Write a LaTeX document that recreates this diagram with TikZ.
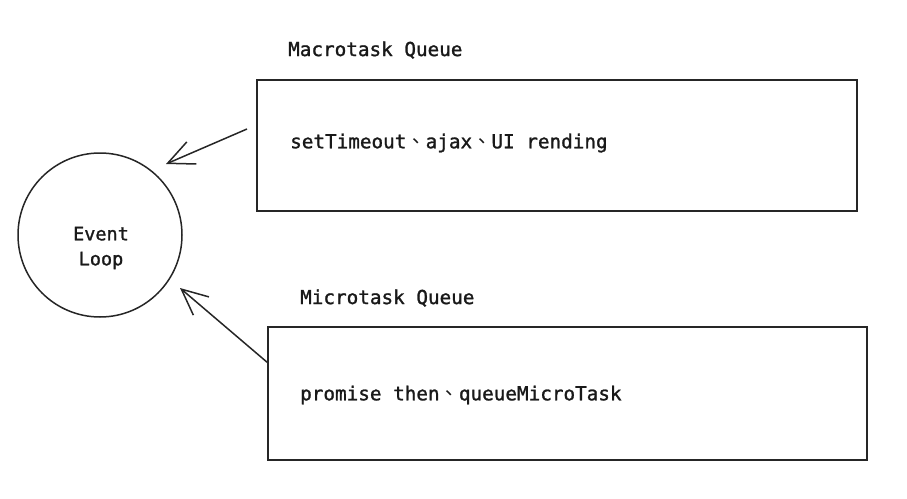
\documentclass[tikz,border=0pt]{standalone}
\usepackage{fontspec}
\newfontfamily\mono[FakeBold=1.3]{DejaVu Sans Mono}
\newfontfamily\cjk{Noto Sans CJK TC}
\usetikzlibrary{arrows.meta}
\newcommand{\dun}{{\cjk 、}}
\tikzset{
  sk/.style={line width=1.5pt, draw=black!85},
  lbl/.style={font=\mono\fontsize{19.3}{23}\selectfont, inner sep=0pt, anchor=west, text=black!90},
  arr/.style={sk, -{Straight Barb[length=26pt, width=24pt, line width=1.5pt]}}
}
\begin{document}
\begin{tikzpicture}[x=1pt,y=-1pt]
\useasboundingbox (0,0) rectangle (907,498);
\node[sk, circle, minimum size=164pt, inner sep=0pt] (loop) at (100,235) {};
\node[lbl, anchor=center, align=center, font=\mono\fontsize{18.5}{25}\selectfont] (looptxt) at (101,248) {Event\\Loop};
\node[lbl] (mact) at (288,50) {Macrotask Queue};
\draw[sk] (257,80) rectangle (857,211);
\node[lbl] (mactxt) at (290,143) {setTimeout\dun ajax\dun UI rending};
\node[lbl] (mict) at (300,298) {Microtask Queue};
\draw[sk] (268,327) rectangle (867,460);
\node[lbl] (mictxt) at (300,395) {promise then\dun queueMicroTask};
\coordinate (a1s) at (247,129);
\coordinate (a1e) at (166,164);
\coordinate (a2s) at (268,363);
\coordinate (a2e) at (180,288);
\draw[arr] (a1s) -- (a1e);
\draw[arr] (a2s) -- (a2e);
\end{tikzpicture}
\end{document}
